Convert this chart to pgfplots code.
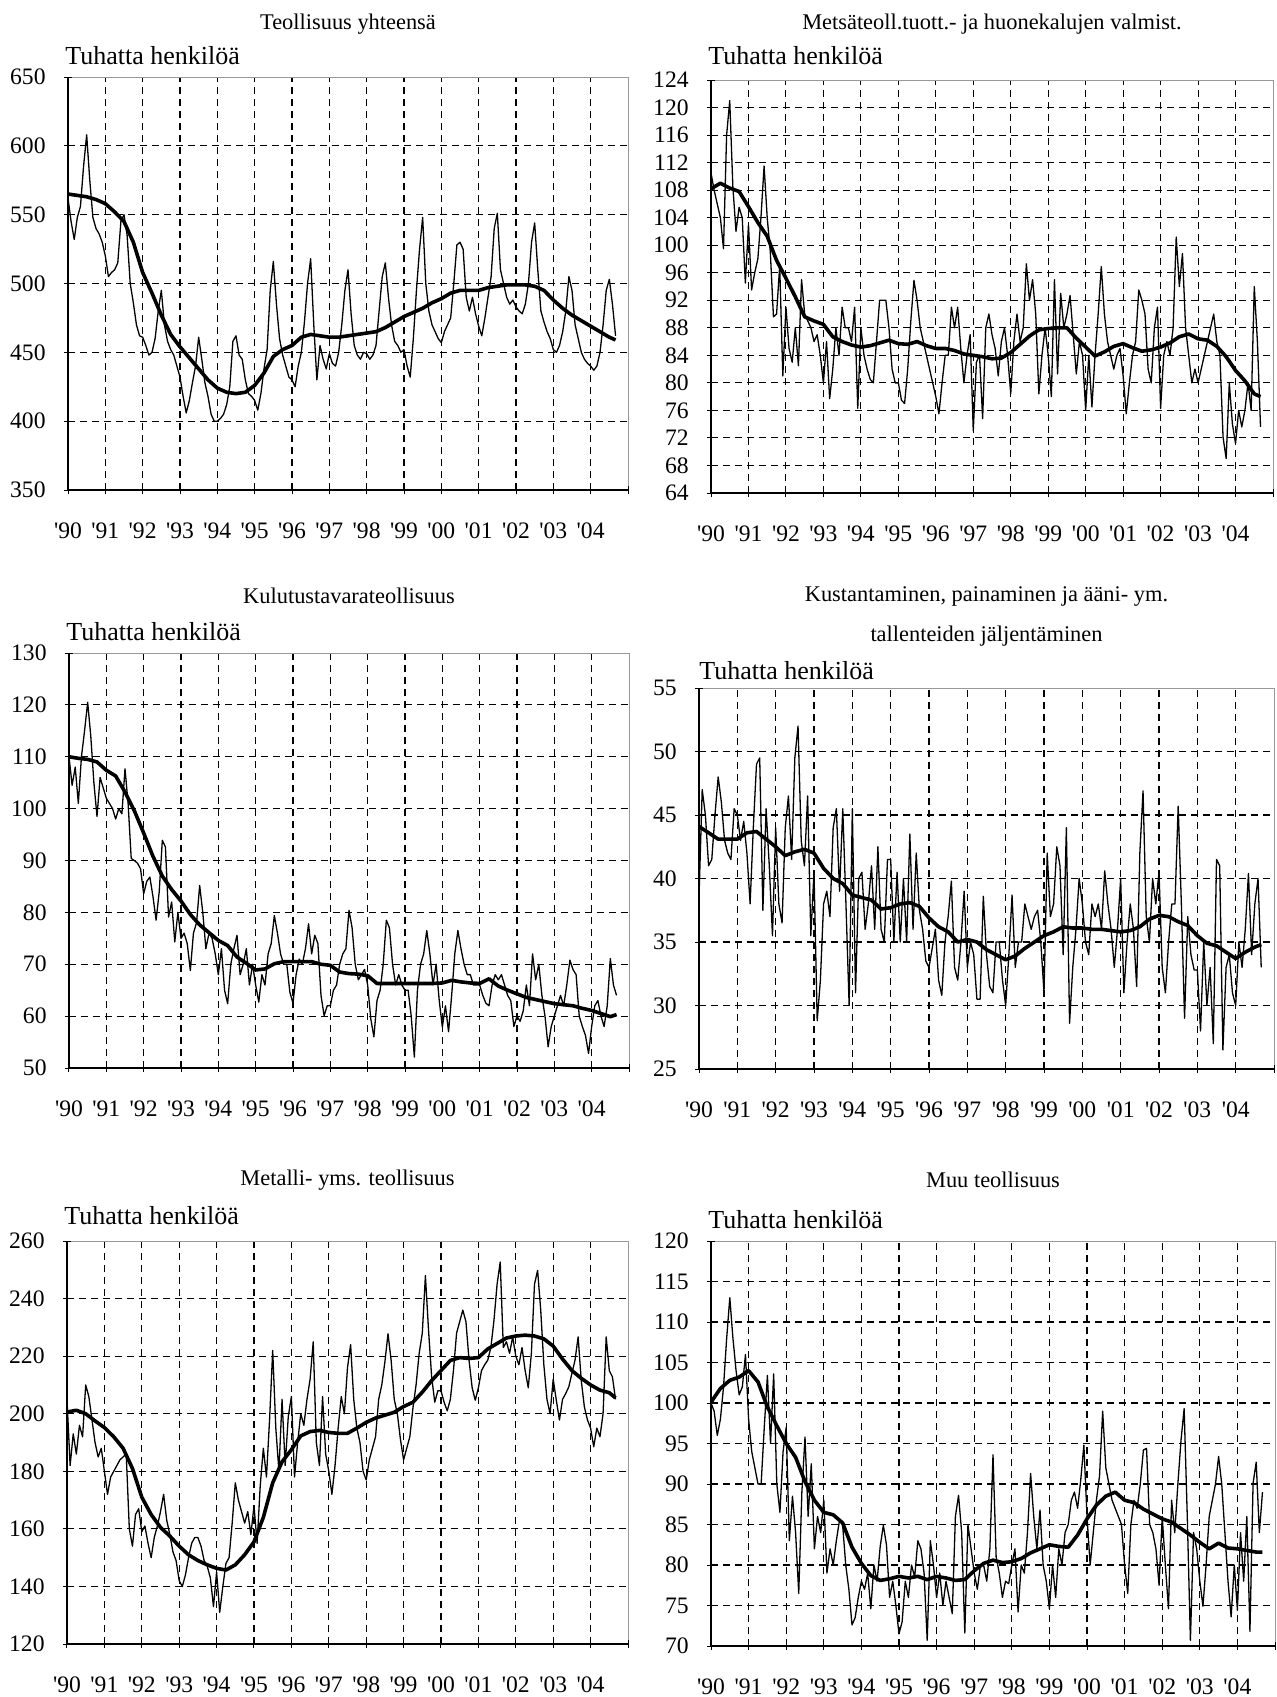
\documentclass[border=0pt]{standalone}
\usepackage{fontspec}
\setmainfont{Liberation Serif}
\usepackage{pgfplots}
\usepackage{pgfplotstable}
\pgfplotsset{compat=1.18}
\newcommand{\q}[1]{\textquotesingle#1}
\newcommand{\yl}{\fontsize{13}{15}\selectfont Tuhatta henkilöä}

% ---------- Teollisuus yhteensä ----------
\pgfplotstableread[row sep=\\]{y\\
562\\545\\532\\548\\556\\585\\608\\575\\548\\540\\536\\530\\
520\\505\\508\\510\\515\\545\\550\\535\\500\\486\\470\\462\\
461\\455\\448\\450\\460\\480\\495\\470\\458\\452\\448\\440\\
432\\418\\406\\415\\428\\440\\461\\445\\428\\418\\405\\400\\
400\\402\\405\\412\\425\\458\\462\\448\\445\\430\\420\\418\\
415\\408\\420\\438\\452\\495\\516\\485\\460\\448\\440\\432\\
430\\425\\440\\450\\472\\500\\518\\470\\430\\455\\445\\438\\
449\\442\\440\\450\\470\\495\\510\\478\\455\\448\\445\\450\\
449\\445\\448\\455\\480\\505\\515\\490\\470\\458\\455\\450\\
452\\440\\432\\460\\495\\525\\548\\500\\480\\470\\465\\460\\
457\\465\\470\\475\\500\\528\\530\\525\\490\\480\\490\\478\\
469\\462\\475\\490\\505\\540\\551\\510\\500\\490\\485\\488\\
483\\480\\478\\485\\500\\530\\544\\510\\480\\472\\465\\460\\
452\\450\\455\\465\\480\\505\\495\\470\\460\\450\\445\\442\\
440\\437\\440\\450\\470\\495\\503\\485\\462\\
}\dataA
\pgfplotstableread[row sep=\\]{m y\\
0 565\\3 564\\6 563\\9 561\\12 558\\15 552\\18 545\\21 530\\24 508\\27 493\\
30 477\\33 463\\36 454\\39 446\\42 438\\45 430\\48 424\\51 421\\54 420\\57 421\\
60 426\\63 435\\66 447\\69 452\\72 455\\75 461\\78 463\\81 462\\84 461\\87 461\\
90 462\\93 463\\96 464\\99 465\\102 468\\105 472\\108 476\\111 479\\114 482\\117 486\\
120 489\\123 493\\126 495\\129 495\\132 495\\135 497\\138 498\\141 499\\144 499\\147 499\\
150 498\\153 495\\156 488\\159 482\\162 477\\165 473\\168 469\\171 465\\174 461\\176 459\\
}\trendA

% ---------- Metsäteoll. ----------
\pgfplotstableread[row sep=\\]{y\\
110.5\\108\\106\\104\\99.5\\116\\121\\108.5\\102\\105.5\\104\\94.5\\
103\\93.5\\96\\98\\104\\111.5\\104\\99\\89.6\\90\\97\\81\\
91\\85\\83\\88\\82.5\\95\\90\\89\\88\\86\\87\\84\\
80\\86\\77.7\\82\\88\\84\\91\\88\\88\\86\\91\\76.3\\
88\\84\\82\\80.5\\80\\86\\92\\92\\92\\88\\82\\80\\
80\\77.5\\77\\82\\89\\94.9\\92\\88\\86\\84\\82\\80\\
78\\75.5\\80\\84\\84\\91\\88\\91\\85\\80\\84\\87\\
73\\83\\84\\74.8\\88\\90\\87\\85\\81\\86\\88\\84\\
78.4\\86\\90\\86\\88\\97.3\\92\\95\\90\\78.4\\84\\88\\
84\\78\\95\\81.3\\93\\88\\90\\92.7\\87\\81.3\\86\\84\\
76\\84\\76.5\\84\\90\\96.9\\90\\86\\84\\82\\84\\85\\
81\\75.5\\80\\84\\86\\93.5\\92\\90\\82\\80\\88\\91\\
76.3\\84\\86\\84\\88\\101.2\\94\\98.8\\88\\84\\80\\82\\
80\\82\\84\\86\\88\\90\\86\\84\\72.1\\69\\80\\74\\
71.2\\76\\73.6\\76\\80\\76\\94\\86\\73.6\\
}\dataB
\pgfplotstableread[row sep=\\]{m y\\
0 108.2\\3 109\\6 108.3\\9 107.8\\12 105.6\\15 103.3\\18 101.3\\21 97.8\\24 95.2\\27 92.5\\
30 89.6\\33 89\\36 88.5\\39 86.7\\42 86\\45 85.5\\48 85.2\\51 85.4\\54 85.8\\57 86.2\\
60 85.7\\63 85.6\\66 86\\69 85.4\\72 85\\75 85\\78 84.7\\81 84.2\\84 84\\87 83.8\\
90 83.5\\93 83.6\\96 84.4\\99 85.6\\102 86.8\\105 87.7\\108 87.9\\111 88\\114 88\\117 86.5\\
120 85.2\\123 83.9\\126 84.5\\129 85.3\\132 85.7\\135 85.1\\138 84.6\\141 84.8\\144 85.2\\147 85.8\\
150 86.7\\153 87.1\\156 86.4\\159 86.2\\162 85.3\\165 83.8\\168 81.8\\171 80.3\\174 78.4\\176 78\\
}\trendB

% ---------- Kulutustavarateollisuus ----------
\pgfplotstableread[row sep=\\]{y\\
110\\104.5\\108\\101\\110\\115\\120.5\\114\\105\\98.5\\106\\104\\
102\\101\\100\\98\\100\\99\\107.7\\101\\90.4\\90\\89.5\\88.4\\
83.6\\86\\86.8\\83\\78.5\\84\\93.9\\92.6\\79.1\\82\\74.3\\80\\
75\\76\\74\\68.8\\76\\78\\85.2\\80\\73\\76\\75\\72\\
68\\73\\65\\62.4\\70\\73\\75.6\\68\\70\\73\\66\\70\\
66\\62.7\\68\\66\\72\\74\\79.4\\76\\72\\70\\70\\64.6\\
62.5\\68\\71\\70\\73\\77.8\\72\\75.6\\74\\64\\60.1\\62\\
62\\65\\66\\70\\72\\73\\80.4\\77\\70\\67\\68\\69\\
66\\59.5\\56\\63\\65\\70\\78.5\\77\\70\\66\\68\\66\\
65\\65\\60\\52.1\\65\\70\\72\\76.5\\72\\66\\70\\63\\
57.9\\62\\57\\64\\72\\76.5\\73\\70\\68\\68\\66\\66\\
66\\64\\62.5\\62\\66\\68\\67\\68\\66\\64\\63\\58\\
60\\59\\61\\66\\62\\72\\67\\70\\64\\60\\54.1\\58\\
60\\62\\64\\62\\66\\70.8\\69\\68\\60\\58\\56.3\\52.8\\
58\\62\\63\\60\\58\\62\\71.1\\66\\64\\
}\dataC
\pgfplotstableread[row sep=\\]{m y\\
0 110\\3 109.7\\6 109.5\\9 109\\12 107.4\\15 106.3\\18 103.2\\21 99.6\\24 95.3\\27 90.8\\
30 87\\33 84.4\\36 82.2\\39 79.6\\42 77.6\\45 76.1\\48 74.6\\51 73.6\\54 71.4\\57 70.2\\
60 68.9\\63 69.1\\66 70.1\\69 70.5\\72 70.5\\75 70.5\\78 70.5\\81 70\\84 69.8\\87 68.5\\
90 68.2\\93 68.1\\96 67.8\\99 66.3\\102 66.3\\105 66.3\\108 66.3\\111 66.3\\114 66.3\\117 66.3\\
120 66.4\\123 66.9\\126 66.6\\129 66.4\\132 66.3\\135 67.2\\138 65.8\\141 65\\144 64.3\\147 63.6\\
150 63.2\\153 62.8\\156 62.4\\159 62.2\\162 62\\165 61.5\\168 61.1\\171 60.5\\174 59.9\\176 60.3\\
}\trendC

% ---------- Kustantaminen ----------
\pgfplotstableread[row sep=\\]{y\\
38.5\\47\\45\\41\\41.5\\45\\48\\46\\43\\42\\41.5\\45.5\\
45\\43\\44.5\\42\\38\\44\\49\\49.5\\37.5\\45.5\\41\\35.5\\
44\\38\\36.5\\44\\46.5\\41.5\\49.5\\52\\43\\41\\46.5\\35.5\\
40.5\\28.8\\32\\38\\39\\37\\44\\45.5\\39\\45.5\\38\\30\\
45.5\\31\\40\\40.5\\36\\38\\41\\36\\42.5\\36\\35\\41.5\\
41.5\\35\\40.5\\35\\40\\35\\43.5\\36\\42\\37.5\\36\\33.5\\
33\\34.5\\36\\32\\30.8\\35\\37\\39.8\\33\\32\\35\\39\\
33\\35\\34\\30.5\\30.5\\38.6\\34\\31.5\\31\\35\\35\\32\\
30\\34\\38.7\\33\\35\\35\\38\\37\\36\\37\\37.5\\35\\
31\\42\\37\\38\\42.5\\41\\34\\44\\28.6\\33\\36\\40\\
38\\35\\34\\38\\37\\38\\36\\40.6\\38\\36\\33\\36\\
40\\31\\35\\38\\36\\31.5\\42\\46.9\\37\\35\\40\\38\\
40.5\\33\\31\\35\\38\\38\\45.7\\38\\29\\37\\34\\32.8\\
32.8\\28\\35\\30\\33\\27\\41.5\\41\\26.5\\33\\34\\31\\
30\\35\\33\\36\\40.4\\34\\38\\40\\33\\
}\dataD
\pgfplotstableread[row sep=\\]{m y\\
0 44.1\\3 43.6\\6 43.1\\9 43.1\\12 43.1\\15 43.6\\18 43.7\\21 43.1\\24 42.5\\27 41.8\\
30 42.1\\33 42.3\\36 42\\39 40.8\\42 40\\45 39.6\\48 38.7\\51 38.5\\54 38.3\\57 37.6\\
60 37.7\\63 38\\66 38.1\\69 37.8\\72 36.9\\75 36.2\\78 35.8\\81 35\\84 35.2\\87 35\\
90 34.4\\93 34\\96 33.6\\99 33.9\\102 34.5\\105 35\\108 35.5\\111 35.8\\114 36.2\\117 36.1\\
120 36.1\\123 36\\126 36\\129 35.9\\132 35.8\\135 35.9\\138 36.2\\141 36.8\\144 37.1\\147 37\\
150 36.6\\153 36.3\\156 35.5\\159 34.9\\162 34.7\\165 34.2\\168 33.7\\171 34.2\\174 34.6\\176 34.8\\
}\trendD

% ---------- Metalli ----------
\pgfplotstableread[row sep=\\]{y\\
205\\182\\193\\186\\196\\192\\210\\206\\198\\190\\185\\188\\
180\\172\\178\\180\\182\\184\\185\\186\\160\\154\\165\\167\\
159\\161\\155\\150\\157\\161\\166\\172\\163\\158\\152\\149\\
142\\140\\144\\150\\155\\157\\157\\154\\149\\147\\143\\133\\
145\\131\\140\\148\\150\\162\\176\\170\\166\\162\\166\\158\\
168\\155\\175\\188\\178\\198\\222\\195\\180\\205\\182\\199\\
206\\178\\190\\200\\196\\205\\212\\225\\190\\182\\206\\186\\
180\\172\\182\\195\\206\\200\\216\\224\\205\\195\\190\\180\\
177\\184\\188\\192\\205\\210\\218\\227.8\\218.6\\205\\200\\191\\
184\\188\\192\\202\\210\\221\\228\\248\\229\\212.8\\204\\208\\
208\\204\\201\\205\\215\\228\\232\\236\\232\\218.6\\209\\204.7\\
209\\215\\217\\218.6\\223\\232.5\\245\\252.7\\223\\225\\221\\226.7\\
220\\217\\223\\215\\209\\221\\245\\249.8\\236\\217\\205\\200\\
212\\204.7\\197.8\\205\\207\\209.3\\214\\218.6\\226.7\\211.6\\202.4\\197.8\\
195\\188.5\\195\\192\\200\\226.7\\215\\212.8\\205\\
}\dataE
\pgfplotstableread[row sep=\\]{m y\\
0 200.6\\3 201.2\\6 200\\9 197.5\\12 195.2\\15 192\\18 188\\21 181\\24 171\\27 165\\
30 160.5\\33 157.5\\36 154\\39 151\\42 149\\45 147.5\\48 146.3\\51 145.7\\54 147.5\\57 151\\
60 155.5\\63 164\\66 176\\69 183.3\\72 187.5\\75 192.3\\78 193.8\\81 194.2\\84 193.5\\87 193.2\\
90 193.2\\93 195\\96 197\\99 198.5\\102 199.5\\105 200.5\\108 202.5\\111 204\\114 207.5\\117 211.5\\
120 215\\123 218.5\\126 219.5\\129 219.2\\132 219.5\\135 222.5\\138 224.4\\141 226.3\\144 227\\147 227.3\\
150 227\\153 226\\156 223.5\\159 219\\162 215\\165 212.3\\168 210\\171 208.2\\174 207.3\\176 205.5\\
}\trendE

% ---------- Muu teollisuus ----------
\pgfplotstableread[row sep=\\]{y\\
100\\99\\96\\98\\102\\108\\113\\108\\104\\101\\102\\106\\
98\\94\\92\\90\\90\\97\\103.4\\95\\103.6\\90\\86.5\\94\\
97\\83\\88.5\\84\\76.5\\89\\95.8\\86\\92.5\\82\\86\\84\\
88\\79\\82\\80\\83\\85.5\\85\\80\\77\\72.6\\73.5\\76\\
78\\77\\79\\74.6\\80\\78\\82.3\\84.9\\82.5\\76\\78\\75\\
71.5\\73\\78\\76\\80\\78.5\\83\\82\\79\\70.7\\83\\80\\
76\\79\\75\\78\\76\\74\\86\\88.6\\84\\71.6\\85\\82\\
79\\77\\80\\80\\78\\82\\93.6\\81\\79\\76\\78\\77.7\\
80\\82\\74.2\\80\\79\\84\\91.3\\86\\82\\86.8\\80\\78\\
74.6\\80\\76\\82\\80\\84\\85\\88\\89\\87\\90.5\\94.8\\
86\\80\\84\\88\\91\\99\\92\\90\\88\\87\\86\\85\\
80\\76.5\\85\\88\\87\\90\\94.2\\94.4\\85\\84\\82\\77.5\\
86\\80\\74.6\\88\\84\\90\\95.4\\99.3\\86\\70.7\\84\\82\\
78\\74.9\\80\\86\\88\\90\\93.4\\90\\84\\78\\73.6\\80\\
74.4\\84\\78\\86\\71.8\\90.1\\92.7\\84\\89\\
}\dataF
\pgfplotstableread[row sep=\\]{m y\\
0 100.1\\3 101.8\\6 102.8\\9 103.2\\12 104\\15 102.6\\18 99.5\\21 97.2\\24 95\\27 93.3\\
30 90.3\\33 88\\36 86.5\\39 86.2\\42 85.2\\45 82.2\\48 80.2\\51 78.7\\54 78.1\\57 78.3\\
60 78.6\\63 78.4\\66 78.6\\69 78.2\\72 78.6\\75 78.4\\78 78.1\\81 78.2\\84 79.3\\87 80.2\\
90 80.6\\93 80.3\\96 80.4\\99 80.8\\102 81.5\\105 82\\108 82.5\\111 82.3\\114 82.2\\117 83.7\\
120 85.7\\123 87.4\\126 88.5\\129 89\\132 88\\135 87.7\\138 86.9\\141 86.3\\144 85.7\\147 85.3\\
150 84.5\\153 83.7\\156 82.8\\159 82\\162 82.7\\165 82.1\\168 82\\171 81.8\\174 81.6\\176 81.6\\
}\trendF

\pgfplotsset{
  panel/.style={
    scale only axis, clip mode=individual,
    xmin=0, xmax=180,
    xtick={0,12,...,168},
    xticklabels={\q90,\q91,\q92,\q93,\q94,\q95,\q96,\q97,\q98,\q99,\q00,\q01,\q02,\q03,\q04},
    extra x ticks={180}, extra x tick labels={},
    extra tick style={grid=none},
    tick pos=left,
    tick align=center,
    major tick length=4pt,
    tick style={black, line width=0.5pt},
    axis line style={draw=black!40, line width=0.5pt},
    grid=major,
    major grid style={black, line width=0.55pt, dash pattern=on 3.5pt off 2.5pt},
    /pgf/number format/assume math mode=true,
    ticklabel style={font=\fontsize{11.8}{13}\selectfont},
    xticklabel style={anchor=base, yshift=-22pt, inner sep=0pt},
    yticklabel style={anchor=east, xshift=-9pt, inner sep=0pt},
    after end axis/.code={\draw[black, line width=0.8pt] (rel axis cs:0,1) -- (rel axis cs:0,0) -- (rel axis cs:1,0);},
  },
  thinl/.style={black, line width=0.65pt, line join=round},
  thickl/.style={black, line width=1.8pt, line join=round},
}

\begin{document}
\begin{tikzpicture}[font=\fontsize{11.2}{13}\selectfont]
\path[use as bounding box] (0,0) rectangle (638pt,-848.5pt);

% Panel 1
\begin{axis}[panel, at={(34pt,-245pt)}, anchor=south west, width=280pt, height=206.5pt,
  ymin=350, ymax=650, ytick={350,400,...,600}, extra y ticks={650}]
\addplot[thinl] table[x expr=\coordindex, y=y] {\dataA};
\addplot[thickl] table[x=m, y=y] {\trendA};
\node[yshift=26.5pt] at (rel axis cs:0.5,1) {Teollisuus yhteensä};
\node[anchor=west, yshift=10.5pt, xshift=-1.5pt, inner xsep=0pt] at (rel axis cs:0,1) {\yl};
\end{axis}

% Panel 2
\begin{axis}[panel, at={(355.5pt,-246.5pt)}, anchor=south west, width=281pt, height=206.5pt,
  ymin=64, ymax=124, ytick={64,68,...,120}, extra y ticks={124}]
\addplot[thinl] table[x expr=\coordindex, y=y] {\dataB};
\addplot[thickl] table[x=m, y=y] {\trendB};
\node[yshift=28pt] at (rel axis cs:0.5,1) {Metsäteoll.tuott.- ja huonekalujen valmist.};
\node[anchor=west, yshift=12pt, xshift=-1.5pt, inner xsep=0pt] at (rel axis cs:0,1) {\yl};
\end{axis}

% Panel 3
\begin{axis}[panel, at={(34.5pt,-534pt)}, anchor=south west, width=280pt, height=207.5pt,
  ymin=50, ymax=130, ytick={50,60,...,120}, extra y ticks={130}]
\addplot[thinl] table[x expr=\coordindex, y=y] {\dataC};
\addplot[thickl] table[x=m, y=y] {\trendC};
\node[yshift=28.5pt] at (rel axis cs:0.5,1) {Kulutustavarateollisuus};
\node[anchor=west, yshift=10.5pt, xshift=-1.5pt, inner xsep=0pt] at (rel axis cs:0,1) {\yl};
\end{axis}

% Panel 4
\begin{axis}[panel, at={(349.5pt,-534.5pt)}, anchor=south west, width=287.5pt, height=190.5pt,
  ymin=25, ymax=55, ytick={25,30,...,50}, extra y ticks={55}]
\addplot[thinl] table[x expr=\coordindex, y=y] {\dataD};
\addplot[thickl] table[x=m, y=y] {\trendD};
\node[yshift=46pt] at (rel axis cs:0.5,1) {Kustantaminen, painaminen ja ääni- ym.};
\node[yshift=26pt] at (rel axis cs:0.5,1) {tallenteiden jäljentäminen};
\node[anchor=west, yshift=8.5pt, xshift=0pt, inner xsep=0pt] at (rel axis cs:0,1) {\yl};
\end{axis}

% Panel 5
\begin{axis}[panel, at={(33.5pt,-822pt)}, anchor=south west, width=280.5pt, height=201.5pt,
  ymin=120, ymax=260, ytick={120,140,...,240}, extra y ticks={260}]
\addplot[thinl] table[x expr=\coordindex, y=y] {\dataE};
\addplot[thickl] table[x=m, y=y] {\trendE};
\node[yshift=30.5pt] at (rel axis cs:0.5,1) {Metalli- yms. teollisuus};
\node[anchor=west, yshift=12.5pt, xshift=-1.5pt, inner xsep=0pt] at (rel axis cs:0,1) {\yl};
\end{axis}

% Panel 6
\begin{axis}[panel, at={(355.5pt,-823pt)}, anchor=south west, width=282pt, height=202.5pt,
  ymin=70, ymax=120, ytick={70,75,...,115}, extra y ticks={120}]
\addplot[thinl] table[x expr=\coordindex, y=y] {\dataF};
\addplot[thickl] table[x=m, y=y] {\trendF};
\node[yshift=30.5pt] at (rel axis cs:0.5,1) {Muu teollisuus};
\node[anchor=west, yshift=10.5pt, xshift=-1.5pt, inner xsep=0pt] at (rel axis cs:0,1) {\yl};
\end{axis}
\end{tikzpicture}
\end{document}
